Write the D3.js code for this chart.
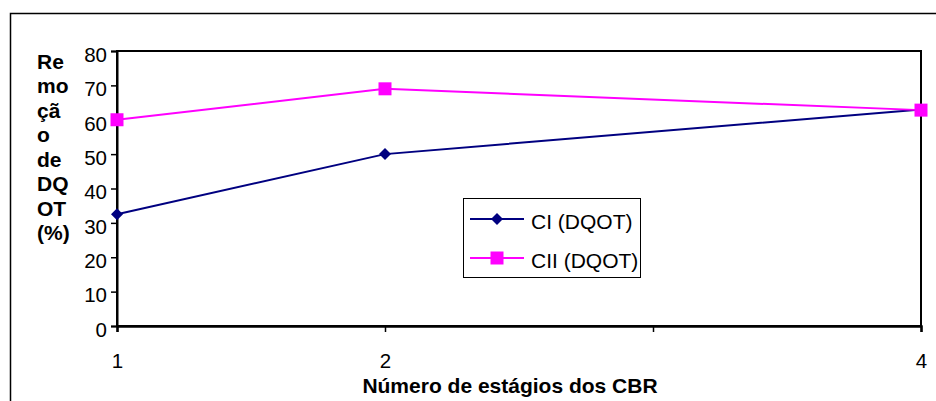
<!DOCTYPE html>
<html lang="pt">
<head>
<meta charset="utf-8">
<title>Remoção de DQOT</title>
<script src="https://cdn.jsdelivr.net/npm/d3@7"></script>
<style>
  body { margin: 0; background: #fff; }
  text { font-family: Arial, "Liberation Sans", sans-serif; }
</style>
</head>
<body>
<div id="chart"></div>
<script>
// data
var stages = [1, 2, 4];
var xTickValues = [1, 2, 3, 4];
var xTickLabels = ["1", "2", "", "4"];
var ciValues = [32.5, 50, 63];
var ciiValues = [60, 69, 62.8];
var yTicks = [0, 10, 20, 30, 40, 50, 60, 70, 80];
var seriesNames = ["CI (DQOT)", "CII (DQOT)"];
var yTitleLines = ["Re", "mo", "çã", "o", "de", "DQ", "OT", "(%)"];

var W = 936, H = 401;
var plot = {left: 117, top: 51, right: 921, bottom: 326};
var fontFam = "Arial, 'Liberation Sans', sans-serif";

var svg = d3.select("#chart").append("svg")
  .attr("width", W).attr("height", H);

// outer chart border
svg.append("rect")
  .attr("x", 10.5).attr("y", 13.5)
  .attr("width", 940).attr("height", 420)
  .attr("fill", "none").attr("stroke", "#000").attr("stroke-width", 1.5);

var x = d3.scaleLinear().domain([1, 4]).range([plot.left, plot.right]);
var y = d3.scaleLinear().domain([0, 80]).range([plot.bottom, plot.top]);

// plot frame
svg.append("rect")
  .attr("x", plot.left).attr("y", plot.top)
  .attr("width", plot.right - plot.left).attr("height", plot.bottom - plot.top)
  .attr("fill", "none").attr("stroke", "#000").attr("stroke-width", 2);

// y axis
var yAxis = svg.append("g")
  .attr("transform", "translate(" + plot.left + ",0)")
  .call(d3.axisLeft(y).tickValues(yTicks).tickSize(6).tickPadding(4));
yAxis.select(".domain").attr("stroke-width", 2);
yAxis.selectAll(".tick line").attr("stroke-width", 1.5);
yAxis.selectAll("text").attr("font-size", 20.5).attr("fill", "#000")
  .attr("font-family", fontFam)
  .attr("dy", "0.5em");

// x axis
var xAxis = svg.append("g")
  .attr("transform", "translate(0," + plot.bottom + ")")
  .call(d3.axisBottom(x).tickValues(xTickValues)
    .tickFormat(function(d, i) { return xTickLabels[i]; })
    .tickSize(6).tickPadding(21));
xAxis.select(".domain").attr("stroke-width", 2.5);
xAxis.selectAll(".tick line").attr("stroke-width", 1.5);
xAxis.selectAll("text").attr("font-size", 20.5).attr("fill", "#000")
  .attr("font-family", fontFam);

// axis titles
svg.append("text")
  .attr("x", 510).attr("y", 393)
  .attr("text-anchor", "middle")
  .attr("font-size", 21).attr("font-weight", "bold")
  .text("Número de estágios dos CBR");

svg.append("g").selectAll("text")
  .data(yTitleLines)
  .enter().append("text")
  .attr("x", 37)
  .attr("y", function(d, i) { return 68.5 + i * 24.5; })
  .attr("font-size", 21).attr("font-weight", "bold")
  .text(function(d) { return d; });

// series
var series = [
  {name: seriesNames[0], values: ciValues, color: "#000080", shape: d3.symbolSquare, size: 72, rotate: 45},
  {name: seriesNames[1], values: ciiValues, color: "#ff00ff", shape: d3.symbolSquare, size: 169, rotate: 0}
];

var line = d3.line()
  .x(function(d, i) { return x(stages[i]); })
  .y(function(d) { return y(d); });

series.forEach(function(s) {
  svg.append("path")
    .datum(s.values)
    .attr("d", line)
    .attr("fill", "none")
    .attr("stroke", s.color)
    .attr("stroke-width", 2);
  svg.append("g").selectAll("path")
    .data(s.values)
    .enter().append("path")
    .attr("transform", function(d, i) {
      return "translate(" + x(stages[i]) + "," + y(d) + ") rotate(" + s.rotate + ")";
    })
    .attr("d", d3.symbol().type(s.shape).size(s.size))
    .attr("fill", s.color);
});

// legend
var legend = svg.append("g");
legend.append("rect")
  .attr("x", 463.5).attr("y", 198.5)
  .attr("width", 177).attr("height", 79)
  .attr("fill", "#fff").attr("stroke", "#000").attr("stroke-width", 1);

series.forEach(function(s, i) {
  var cy = 219 + i * 39;
  legend.append("line")
    .attr("x1", 470).attr("x2", 524)
    .attr("y1", cy).attr("y2", cy)
    .attr("stroke", s.color).attr("stroke-width", 2);
  legend.append("path")
    .attr("transform", "translate(497," + cy + ") rotate(" + s.rotate + ")")
    .attr("d", d3.symbol().type(s.shape).size(s.size))
    .attr("fill", s.color);
  legend.append("text")
    .attr("x", 531).attr("y", cy + 9.5)
    .attr("font-size", 21)
    .text(s.name);
});
</script>
</body>
</html>
